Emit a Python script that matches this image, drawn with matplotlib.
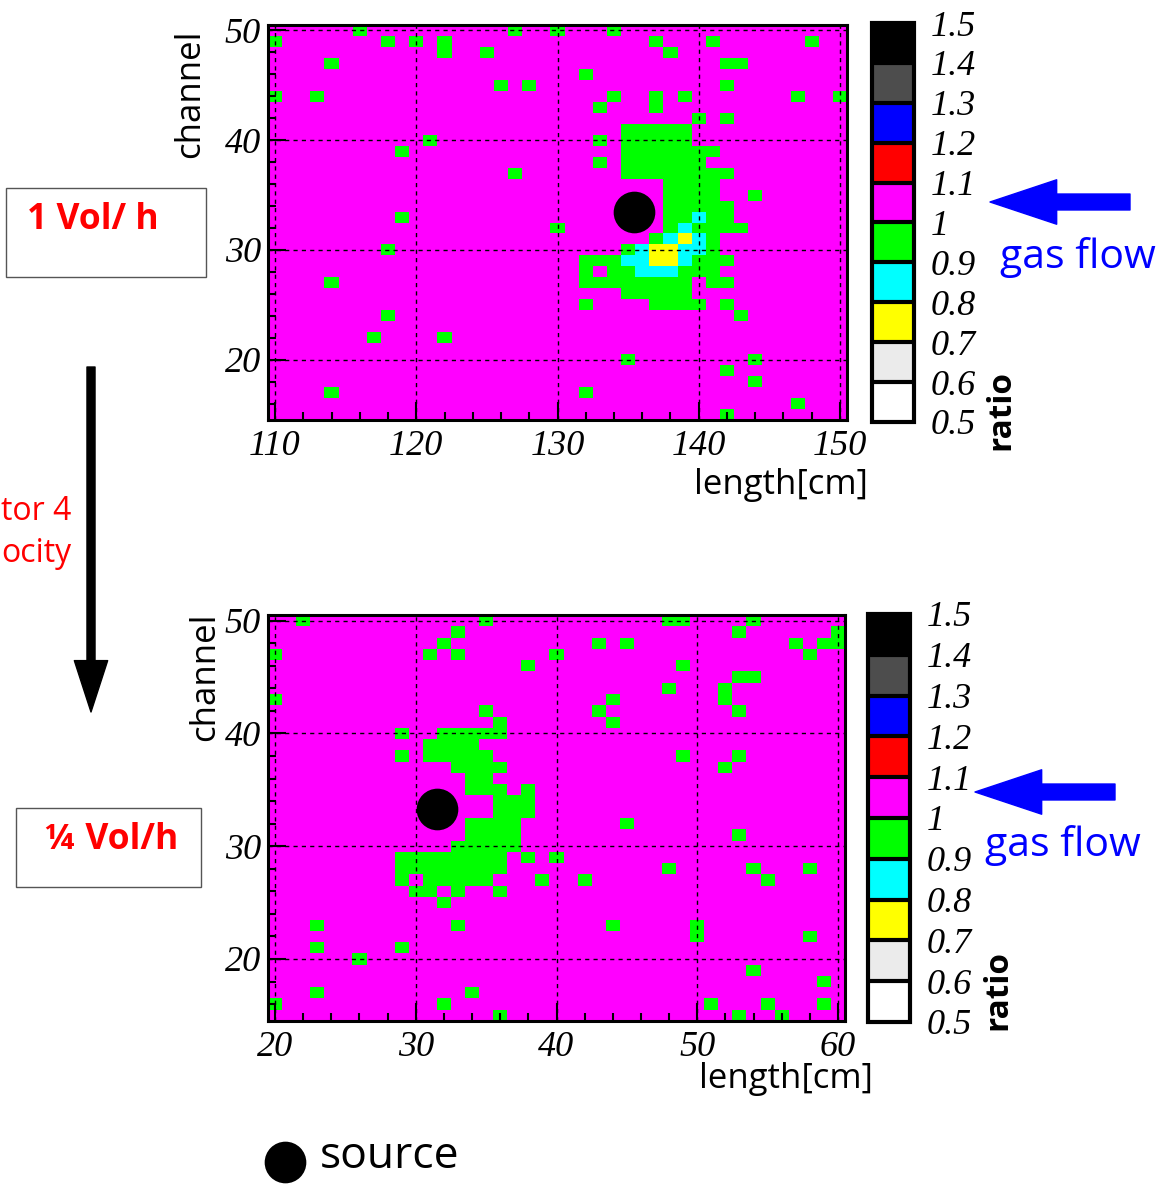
import matplotlib
matplotlib.use('Agg')
import matplotlib.pyplot as plt
import numpy as np
from matplotlib.colors import ListedColormap, BoundaryNorm
from matplotlib.patches import Rectangle, FancyArrowPatch, ArrowStyle
from matplotlib.ticker import MultipleLocator

W, H = 1160, 1184
SANS = 'Open Sans'
SERIF = 'Liberation Serif'

# ratio colour scale (ROOT style palette)
levels = [0.5, 0.6, 0.7, 0.8, 0.9, 1.0, 1.1, 1.2, 1.3, 1.4, 1.5]
level_labels = ['0.5', '0.6', '0.7', '0.8', '0.9', '1', '1.1', '1.2', '1.3', '1.4', '1.5']
palette = ['#ffffff', '#ebebeb', '#ffff00', '#00ffff', '#00ff00',
           '#ff00ff', '#ff0000', '#0000ff', '#4d4d4d', '#000000']

# ratio value of each colour class
v_magenta, v_green, v_cyan, v_yellow = 1.05, 0.95, 0.85, 0.75

channels = np.arange(15, 51)
top_length = np.arange(110, 151)
bot_length = np.arange(20, 61)

# cells per channel -> list of length positions
top_green = {
    50: [116, 127, 130, 134],
    49: [110, 118, 120, 122, 137, 141, 148],
    48: [122, 125, 138],
    47: [114, 142, 143],
    46: [132],
    45: [126, 128, 142],
    44: [110, 113, 134, 137, 139, 147, 150],
    43: [133, 137],
    42: [140, 142],
    41: [135, 136, 137, 138, 139],
    40: [121, 133, 135, 136, 137, 138, 139],
    39: [119, 135, 136, 137, 138, 139, 140, 141],
    38: [133, 135, 136, 137, 138, 139, 140],
    37: [127, 135, 136, 137, 138, 139, 140, 141, 142],
    36: [138, 139, 140, 141],
    35: [138, 139, 140, 141, 144],
    34: [138, 139, 140, 141, 142],
    33: [119, 138, 139, 141, 142],
    32: [130, 138, 140, 141, 142, 143],
    31: [137, 141],
    30: [118, 135, 141],
    29: [132, 133, 134, 140, 141, 142],
    28: [132, 134, 135, 139, 140, 141],
    27: [114, 132, 133, 134, 135, 136, 137, 138, 139, 141, 142],
    26: [135, 136, 137, 138, 139],
    25: [132, 137, 138, 139, 140, 142],
    24: [118, 143],
    22: [117, 122],
    20: [135, 144],
    19: [142],
    18: [144],
    17: [114, 132],
    16: [147],
    15: [142],
}
top_cyan = {
    33: [140],
    32: [139],
    31: [138, 140],
    30: [136, 139, 140],
    29: [135, 136, 139],
    28: [136, 137, 138],
}
top_yellow = {
    31: [139],
    30: [137, 138],
    29: [137, 138],
}
bot_green = {
    50: [22, 35, 48, 49, 54],
    49: [33, 53, 60],
    48: [32, 43, 45, 57, 59, 60],
    47: [20, 31, 33, 40, 58],
    46: [38, 49],
    45: [53, 54],
    44: [48, 52],
    43: [20, 44, 52],
    42: [35, 43, 53],
    41: [36, 44],
    40: [29, 32, 33, 34, 35, 36],
    39: [31, 32, 33, 34],
    38: [29, 31, 32, 33, 34, 35, 49, 53],
    37: [33, 34, 35, 36, 52],
    36: [34, 35],
    35: [34, 35, 36, 38],
    34: [36, 37, 38],
    33: [36, 37, 38],
    32: [34, 35, 36, 37, 45],
    31: [34, 35, 36, 37, 53],
    30: [33, 34, 35, 36, 37],
    29: [29, 30, 31, 32, 33, 34, 35, 36, 38, 40],
    28: [29, 30, 31, 32, 33, 34, 35, 36, 48, 54, 58],
    27: [29, 31, 32, 33, 34, 35, 39, 42, 55],
    26: [30, 31, 33, 36],
    25: [32],
    23: [23, 33, 44, 50],
    22: [50, 58],
    21: [23, 29],
    20: [26],
    19: [54],
    18: [59],
    17: [23, 34],
    16: [20, 32, 51, 55, 59],
    15: [36, 53, 56],
}

top_source = (135.4, 33.45)
bot_source = (31.5, 33.3)


def build(xs, layers):
    z = np.full((len(channels), len(xs)), v_magenta)
    for value, cells in layers:
        for ch, cols in cells.items():
            for c in cols:
                z[ch - channels[0], c - xs[0]] = value
    return z


def px(x, y, w, h):
    # pixel box (left, top, width, height) -> figure fraction rect
    return [x / W, 1 - (y + h) / H, w / W, h / H]


cmap = ListedColormap(palette)
norm = BoundaryNorm(levels, cmap.N)
tick_font = dict(fontsize=26, fontstyle='italic', family=SERIF)

fig = plt.figure(figsize=(W / 100, H / 100), dpi=100)


def panel(rect, cbar_rect, xs, z, src, xticks):
    ax = fig.add_axes(rect)
    xe = np.append(xs - 0.5, xs[-1] + 0.5)
    ye = np.append(channels - 0.5, channels[-1] + 0.5)
    mesh = ax.pcolormesh(xe, ye, z, cmap=cmap, norm=norm)
    ax.scatter([src[0]], [src[1]], s=900, c='black', linewidths=0, zorder=5)
    ax.set_xlim(xe[0], xe[-1])
    ax.set_ylim(ye[0], ye[-1])
    ax.set_xticks(xticks, labels=[str(t) for t in xticks], **tick_font)
    ax.set_yticks([20, 30, 40, 50], labels=['20', '30', '40', '50'], **tick_font)
    ax.xaxis.set_minor_locator(MultipleLocator(2))
    ax.yaxis.set_minor_locator(MultipleLocator(2))
    ax.tick_params(which='both', direction='in', width=1.5, color='black')
    ax.tick_params(which='major', length=13)
    ax.tick_params(which='minor', length=6)
    ax.tick_params(axis='x', pad=7)
    ax.tick_params(axis='y', pad=5)
    ax.grid(True, which='major', color='black', linestyle=(0, (3, 3)), linewidth=1)
    ax.set_axisbelow(False)
    for sp in ax.spines.values():
        sp.set_linewidth(2.2)

    cax = fig.add_axes(cbar_rect)
    cb = fig.colorbar(mesh, cax=cax, boundaries=levels, drawedges=True)
    cb.outline.set_linewidth(3)
    cb.dividers.set_linewidth(3)
    cax.set_yticks(levels, labels=level_labels, **tick_font)
    cax.tick_params(length=0, pad=12)
    return ax


top_z = build(top_length, [(v_green, top_green), (v_cyan, top_cyan), (v_yellow, top_yellow)])
bot_z = build(bot_length, [(v_green, bot_green)])

panel(px(268, 25, 579, 395), px(872, 23, 42, 399), top_length, top_z, top_source,
      [110, 120, 130, 140, 150])
panel(px(268, 615, 577, 406), px(868, 614, 42, 408), bot_length, bot_z, bot_source,
      [20, 30, 40, 50, 60])

# overlay in pixel coordinates for the annotations
ov = fig.add_axes([0, 0, 1, 1], zorder=10)
ov.set_xlim(0, W)
ov.set_ylim(H, 0)
ov.axis('off')

lab = dict(fontsize=25, family=SANS, color='black')
ov.text(190, 94, 'channel', rotation=90, ha='center', va='center', **lab)
ov.text(205, 677, 'channel', rotation=90, ha='center', va='center', **lab)
ov.text(868, 485, 'length[cm]', ha='right', va='center', **lab)
ov.text(873, 1079, 'length[cm]', ha='right', va='center', **lab)

ov.text(1001, 450, 'ratio', rotation=90, ha='center', va='bottom', fontsize=24,
        fontweight='bold', family=SANS)
ov.text(998, 1030, 'ratio', rotation=90, ha='center', va='bottom', fontsize=24,
        fontweight='bold', family=SANS)

ov.text(1000, 257, 'gas flow', ha='left', va='center', fontsize=29.5, family=SANS, color='blue')
ov.text(985, 846, 'gas flow', ha='left', va='center', fontsize=29.5, family=SANS, color='blue')

blue_style = ArrowStyle.Simple(head_length=48, head_width=32, tail_width=11.5)
for (x0, x1, y) in [(1130, 990, 202), (1115, 975, 792)]:
    ov.add_patch(FancyArrowPatch((x0, y), (x1, y), arrowstyle=blue_style, color='blue',
                                 mutation_scale=1, shrinkA=0, shrinkB=0))

black_style = ArrowStyle.Simple(head_length=37, head_width=24, tail_width=5.8)
ov.add_patch(FancyArrowPatch((91, 367), (91, 712), arrowstyle=black_style, color='black',
                             mutation_scale=1, shrinkA=0, shrinkB=0))

# the reference only shows the right-hand part of these two lines
ov.text(1, 511, 'tor 4', ha='left', va='center', fontsize=23, family=SANS, color='red')
ov.text(1, 553, 'ocity', ha='left', va='center', fontsize=23, family=SANS, color='red')

ov.add_patch(Rectangle((6, 188), 200, 89, fill=False, edgecolor='#555555', linewidth=1))
ov.text(27, 220, '1 Vol/ h', ha='left', va='center', fontsize=25.5, fontweight='bold',
        family=SANS, color='red')
ov.add_patch(Rectangle((16, 808), 185, 79, fill=False, edgecolor='#555555', linewidth=1))
ov.text(45, 840, '\u00bc Vol/h', ha='left', va='center', fontsize=25.5, fontweight='bold',
        family=SANS, color='red')

ov.scatter([285], [1162], s=900, c='black', linewidths=0)
ov.text(320, 1157, 'source', ha='left', va='center', fontsize=32, family=SANS, color='black')

fig.savefig('out.png', dpi=100)
